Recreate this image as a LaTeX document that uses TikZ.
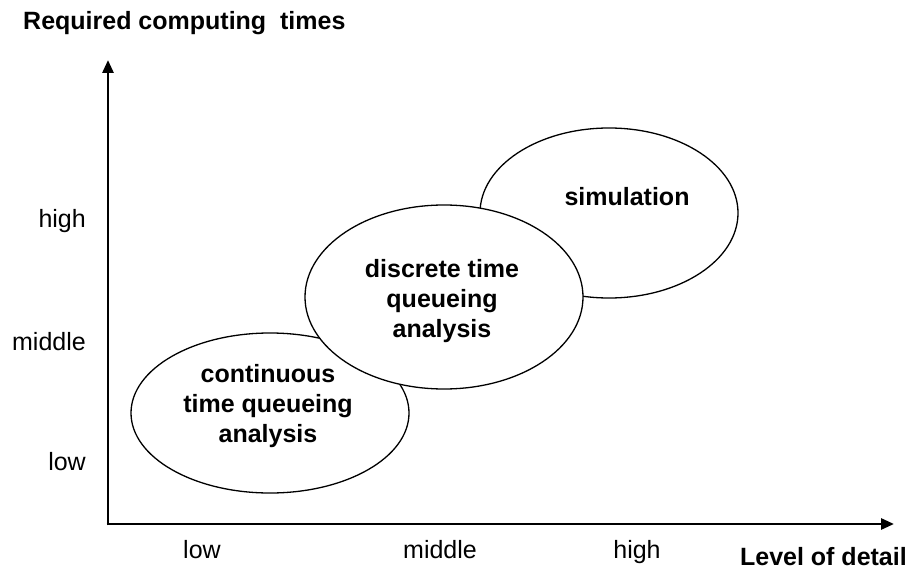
\documentclass[tikz,border=0pt]{standalone}
\usepackage{fontspec}
\setmainfont{Liberation Sans}
\usetikzlibrary{arrows.meta,shapes.geometric}
\begin{document}
\begin{tikzpicture}[x=1pt,y=-1pt,
  axis/.style={line width=2.8pt,-{Triangle[length=13pt,width=11pt]}},
  bubble/.style={ellipse,draw,line width=1.3pt,fill=white,inner sep=0pt,outer sep=0pt},
  ticklabel/.style={inner sep=0pt,font=\fontsize{25}{30}\selectfont},
  axistitle/.style={inner sep=0pt,font=\fontsize{25}{30}\bfseries\selectfont},
  bubbletext/.style={inner sep=0pt,align=center,font=\fontsize{25}{30}\bfseries\selectfont},
]
\useasboundingbox (0,0) rectangle (910,572);

% axes
\coordinate (O) at (108,524);
\coordinate (ytip) at (108,60);
\coordinate (xtip) at (894,524);
\draw[axis] ([yshift=-1.4pt]O) -- (ytip);
\draw[axis] ([xshift=-1.4pt]O) -- (xtip);

% axis titles
\node[axistitle,anchor=base west] (ytitle) at (23,30) {Required computing\ \ times};
\node[axistitle,anchor=base east] (xtitle) at (907,565) {Level of detail};

% vertical scale
\node[ticklabel,anchor=base east] (yhigh) at (86,227) {high};
\node[ticklabel,anchor=base east] (ymid)  at (86,350) {middle};
\node[ticklabel,anchor=base east] (ylow)  at (86,470) {low};

% horizontal scale
\node[ticklabel,anchor=base] (xlow)  at (202,558) {low};
\node[ticklabel,anchor=base] (xmid)  at (440,558) {middle};
\node[ticklabel,anchor=base] (xhigh) at (637,558) {high};

% method bubbles (the middle one is drawn last, on top)
\node[bubble,minimum width=278pt,minimum height=160pt] (cont) at (270,413) {};
\node[bubble,minimum width=258pt,minimum height=170pt] (sim)  at (609,213) {};
\node[bubble,minimum width=278pt,minimum height=184pt] (disc) at (444,297) {};

% labels inside the bubbles (base = baseline of the last line)
\node[bubbletext,anchor=base] (conttext) at (268,442)
  {continuous\\time queueing\\analysis};
\node[bubbletext,anchor=base] (disctext) at (442,337)
  {discrete time\\queueing\\analysis};
\node[bubbletext,anchor=base] (simtext) at (627,206) {simulation};
\end{tikzpicture}
\end{document}
